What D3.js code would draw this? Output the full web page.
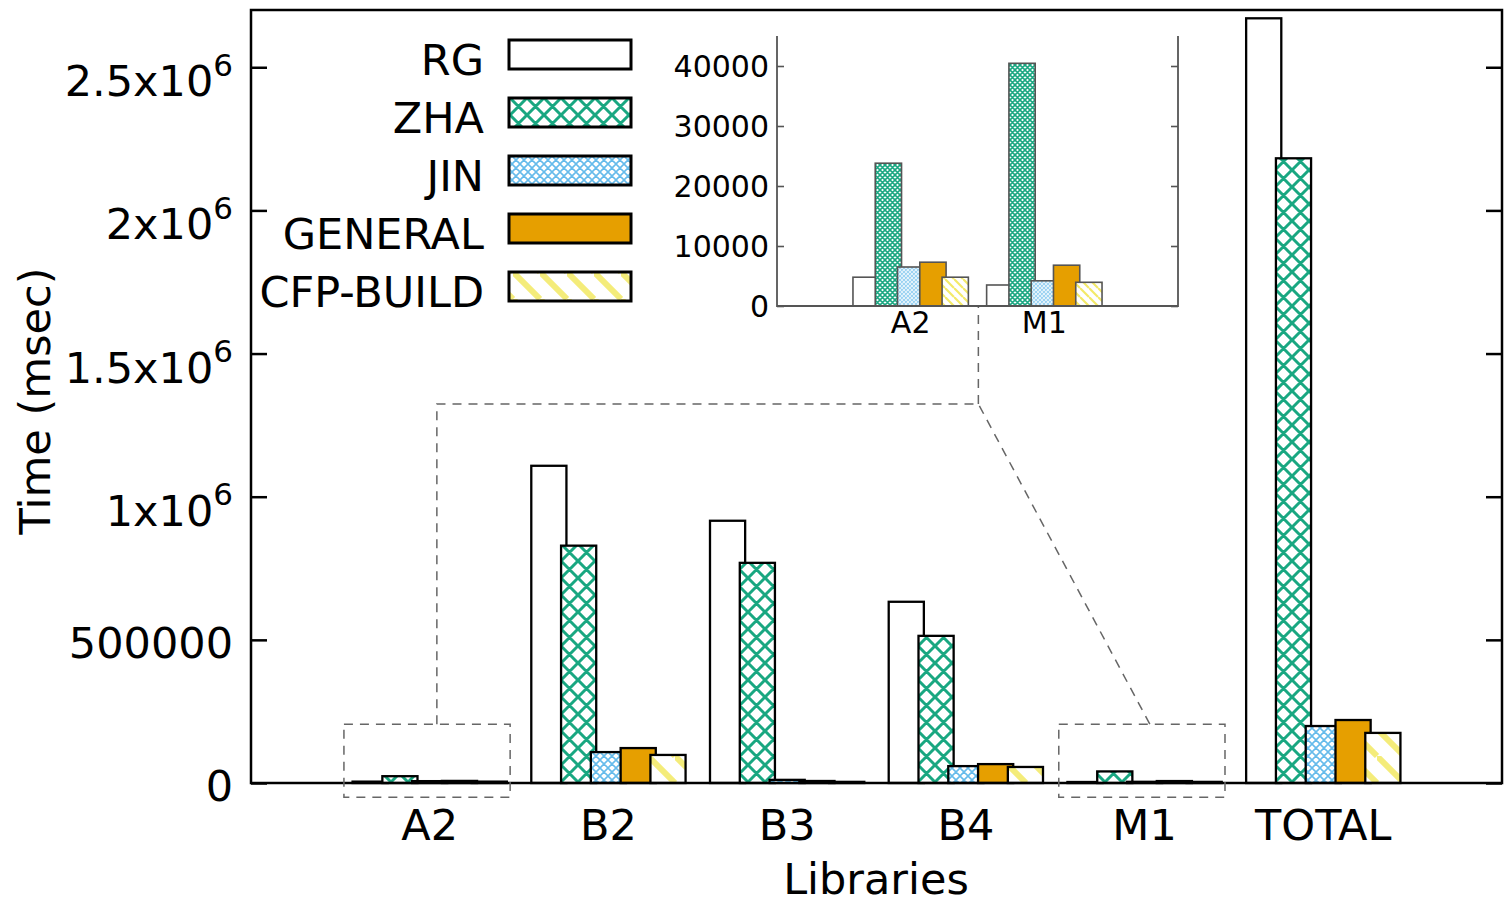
<!DOCTYPE html>
<html>
<head>
<meta charset="utf-8">
<script src="https://cdn.jsdelivr.net/npm/d3@7"></script>
<style>
  body { margin: 0; background: #fff; }
  text { font-family: "DejaVu Sans", sans-serif; fill: #000; }
</style>
</head>
<body>
<script>
(function () {
    'use strict';

    const width = 1509;
    const height = 905;

    // data
    const categories = ["A2", "B2", "B3", "B4", "M1", "TOTAL"];
    const seriesNames = ["RG", "ZHA", "JIN", "GENERAL", "CFP-BUILD"];
    const rgValues      = [4800, 1108000, 916000, 633000, 3500, 2671000];
    const zhaValues     = [23800, 829000, 769000, 514000, 40450, 2182000];
    const jinValues     = [6500, 108000, 11000, 59000, 4200, 199000];
    const generalValues = [7300, 122000, 7000, 66000, 6800, 220000];
    const cfpValues     = [4800, 98000, 4000, 56000, 3950, 175000];
    const seriesValues = [rgValues, zhaValues, jinValues, generalValues, cfpValues];

    const insetCategories = ["A2", "M1"];
    const insetIndex = [0, 4];

    const yTicks = [0, 500000, 1000000, 1500000, 2000000, 2500000];
    const yTickLabels = ["0", "500000", "1x10^6", "1.5x10^6", "2x10^6", "2.5x10^6"];
    const insetTicks = [0, 10000, 20000, 30000, 40000];
    const insetTickLabels = ["0", "10000", "20000", "30000", "40000"];

    const svg = d3.select('body')
        .append('svg')
        .attr('width', width)
        .attr('height', height);

    const defs = svg.append('defs');

    const hatch = (id, size, paths, color, sw, opacity) => {
        const p = defs.append('pattern')
            .attr('id', id)
            .attr('patternUnits', 'userSpaceOnUse')
            .attr('width', size)
            .attr('height', size);
        p.append('rect').attr('width', size).attr('height', size).attr('fill', '#fff');
        p.append('path')
            .attr('d', paths)
            .attr('stroke', color)
            .attr('stroke-width', sw)
            .attr('stroke-opacity', opacity)
            .attr('fill', 'none');
    };
    const cross = s => `M0,0L${s},${s}M${s},0L0,${s}M${-s / 2},${s / 2}L0,${s}M${s / 2},${-s / 2}L${s},0` +
        `M${s / 2},${s + s / 2}L${s},${s}M${s + s / 2},${s / 2}L${s},${s}M0,0L${-s / 2},${s / 2}M0,0L${s / 2},${-s / 2}` +
        `M0,${s}L${s / 2},${s + s / 2}M${s},0L${s + s / 2},${s / 2}`;
    const back = s => `M0,0L${s},${s}M${-s},0L0,${s}M0,${-s}L${s},0`;

    hatch('zha', 17, cross(17), '#009e73', 3, 0.9);
    hatch('jin', 8, cross(8), '#56b4e9', 1.6, 0.9);
    hatch('cfp', 27, back(27), '#f0e442', 6, 0.7);
    hatch('zhaS', 5, cross(5), '#009e73', 1.6, 0.9);
    hatch('jinS', 4, cross(4), '#56b4e9', 1.2, 0.6);
    hatch('cfpS', 9, back(9), '#f0e442', 2.2, 0.8);

    const fills = ['#fff', 'url(#zha)', 'url(#jin)', '#e69f00', 'url(#cfp)'];
    const insetFills = ['#fff', 'url(#zhaS)', 'url(#jinS)', '#e69f00', 'url(#cfpS)'];

    // main chart
    const x = d3.scaleLinear().domain([-1, 6]).range([251, 1502]);
    const y = d3.scaleLinear().domain([0, 2.7e6]).range([783, 10]);
    const slot = 1 / 6;
    const barW = slot * 1.18;

    const bars = [];
    categories.forEach((c, i) => {
        seriesValues.forEach((vals, s) => {
            bars.push({i: i, s: s, v: vals[i]});
        });
    });

    svg.append('g').selectAll('rect')
        .data(bars)
        .enter().append('rect')
        .attr('x', d => x(d.i + (d.s - 2) * slot - barW / 2))
        .attr('width', x(barW) - x(0))
        .attr('y', d => y(d.v))
        .attr('height', d => y(0) - y(d.v))
        .attr('fill', d => fills[d.s])
        .attr('stroke', '#000')
        .attr('stroke-width', 2.3);

    // frame
    svg.append('rect')
        .attr('x', x(-1)).attr('y', y(2.7e6))
        .attr('width', x(6) - x(-1)).attr('height', y(0) - y(2.7e6))
        .attr('fill', 'none').attr('stroke', '#000').attr('stroke-width', 2.5);

    const yAxis = svg.append('g')
        .attr('transform', `translate(${x(-1)},0)`)
        .call(d3.axisLeft(y).tickValues(yTicks).tickSize(-16).tickFormat(''));
    const yAxisR = svg.append('g')
        .attr('transform', `translate(${x(6)},0)`)
        .call(d3.axisRight(y).tickValues(yTicks).tickSize(-16).tickFormat(''));
    [yAxis, yAxisR].forEach(g => {
        g.select('.domain').remove();
        g.selectAll('.tick line').attr('stroke', '#000').attr('stroke-width', 2.5);
    });

    const label = (g, txt, fs) => {
        const parts = txt.split('^');
        g.append('tspan').text(parts[0]);
        if (parts[1]) {
            g.append('tspan').attr('font-size', fs * 0.72).attr('dy', -fs * 0.47).text(parts[1]);
        }
    };

    yTicks.forEach((v, k) => {
        const t = yTickLabels[k];
        const g = svg.append('text')
            .attr('x', 233)
            .attr('y', y(v) + (t.includes('^') ? 29 : 18))
            .attr('text-anchor', 'end')
            .attr('font-size', 43);
        label(g, t, 43);
    });

    svg.selectAll('.xlab')
        .data(categories)
        .enter().append('text')
        .attr('class', 'xlab')
        .attr('x', (d, i) => x(i))
        .attr('y', 840)
        .attr('text-anchor', 'middle')
        .attr('font-size', 43)
        .text(d => d);

    svg.append('text')
        .attr('x', 876).attr('y', 894)
        .attr('text-anchor', 'middle')
        .attr('font-size', 43)
        .text('Libraries');

    svg.append('text')
        .attr('transform', 'translate(50,401) rotate(-90)')
        .attr('text-anchor', 'middle')
        .attr('font-size', 43)
        .text('Time (msec)');

    // legend
    const legend = svg.append('g').selectAll('g')
        .data(seriesNames)
        .enter().append('g')
        .attr('transform', (d, i) => `translate(0,${40 + i * 58})`);
    legend.append('rect')
        .attr('x', 509).attr('y', 0)
        .attr('width', 122).attr('height', 29)
        .attr('fill', (d, i) => fills[i])
        .attr('stroke', '#000').attr('stroke-width', 3);
    legend.append('text')
        .attr('x', 484).attr('y', 35)
        .attr('text-anchor', 'end')
        .attr('font-size', 43)
        .text(d => d);

    // zoom boxes and connectors
    const dash = '9,7';
    const boxTop = 205000, boxBot = -50000;
    insetIndex.forEach(i => {
        svg.append('rect')
            .attr('x', x(i - 0.48)).attr('y', y(boxTop))
            .attr('width', x(0.93) - x(0)).attr('height', y(boxBot) - y(boxTop))
            .attr('fill', 'none').attr('stroke', '#666')
            .attr('stroke-width', 1.5).attr('stroke-dasharray', dash);
    });
    const line = d3.line().x(d => x(d[0])).y(d => y(d[1]));
    svg.append('path')
        .attr('d', line([[0.04, boxTop], [0.04, 1.324e6], [3.07, 1.324e6], [4.03, boxTop]]))
        .attr('fill', 'none').attr('stroke', '#666')
        .attr('stroke-width', 1.5).attr('stroke-dasharray', dash);
    svg.append('path')
        .attr('d', line([[3.07, 1.324e6], [3.07, 1.666e6]]))
        .attr('fill', 'none').attr('stroke', '#666')
        .attr('stroke-width', 1.5).attr('stroke-dasharray', dash);

    // inset
    const xi = d3.scaleLinear().domain([-1, 2]).range([777, 1178]);
    const yi = d3.scaleLinear().domain([0, 45000]).range([306, 36]);
    const inset = svg.append('g');

    const insetBars = [];
    insetIndex.forEach((ci, j) => {
        seriesValues.forEach((vals, s) => {
            insetBars.push({i: j, s: s, v: vals[ci]});
        });
    });
    inset.selectAll('rect')
        .data(insetBars)
        .enter().append('rect')
        .attr('x', d => xi(d.i + (d.s - 2) * slot - barW / 2))
        .attr('width', xi(barW) - xi(0))
        .attr('y', d => yi(d.v))
        .attr('height', d => yi(0) - yi(d.v))
        .attr('fill', d => insetFills[d.s])
        .attr('stroke', '#555')
        .attr('stroke-width', 1.6);

    const iL = inset.append('g')
        .attr('transform', `translate(${xi(-1)},0)`)
        .call(d3.axisLeft(yi).tickValues(insetTicks).tickSize(-7).tickFormat(''));
    const iR = inset.append('g')
        .attr('transform', `translate(${xi(2)},0)`)
        .call(d3.axisRight(yi).tickValues(insetTicks).tickSize(-7).tickFormat(''));
    [iL, iR].forEach(g => {
        g.select('.domain').remove();
        g.selectAll('.tick line').attr('stroke', '#555').attr('stroke-width', 1.6);
    });
    inset.append('path')
        .attr('d', `M${xi(-1)},${yi(45000)}V${yi(0)}H${xi(2)}V${yi(45000)}`)
        .attr('fill', 'none').attr('stroke', '#555').attr('stroke-width', 1.8);

    insetTicks.forEach((v, k) => {
        inset.append('text')
            .attr('x', 769).attr('y', yi(v) + 11)
            .attr('text-anchor', 'end')
            .attr('font-size', 30)
            .text(insetTickLabels[k]);
    });
    inset.selectAll('.ilab')
        .data(insetCategories)
        .enter().append('text')
        .attr('class', 'ilab')
        .attr('x', (d, i) => xi(i))
        .attr('y', 333)
        .attr('text-anchor', 'middle')
        .attr('font-size', 30)
        .text(d => d);

}());
</script>
</body>
</html>
